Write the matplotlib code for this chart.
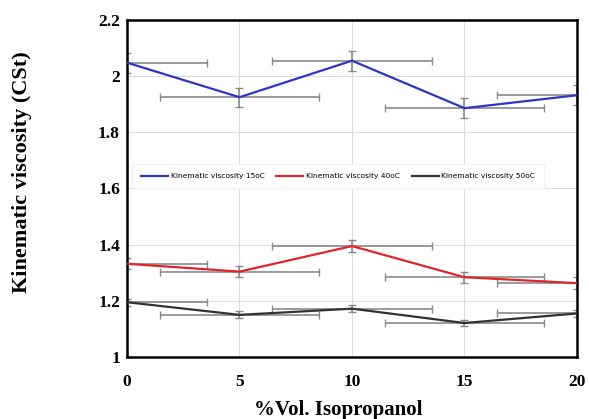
import numpy as np
import matplotlib.pyplot as plt

# data
vol_iso = [0, 5, 10, 15, 20]
visc_15 = [2.048, 1.925, 2.055, 1.886, 1.932]
visc_40 = [1.332, 1.304, 1.395, 1.284, 1.263]
visc_50 = [1.195, 1.150, 1.172, 1.121, 1.155]
yerr_15 = [0.035, 0.034, 0.035, 0.035, 0.035]
yerr_40 = [0.02, 0.02, 0.02, 0.02, 0.022]
yerr_50 = [0.012, 0.012, 0.012, 0.012, 0.012]
xerr = 3.55
labels = ['Kinematic viscosity 15oC', 'Kinematic viscosity 40oC', 'Kinematic viscosity 50oC']
colors = ['#2b35c8', '#e0242a', '#333333']

fig = plt.figure(figsize=(5.89, 4.19), dpi=100)
ax = fig.add_axes([0.2156, 0.148, 0.764, 0.8043])

series = [visc_15, visc_40, visc_50]
errs = [yerr_15, yerr_40, yerr_50]
for ys, ye, lab, col in zip(series, errs, labels, colors):
    ax.errorbar(vol_iso, ys, xerr=xerr, yerr=ye, fmt='none', ecolor='#8a8a8a',
                elinewidth=1.2, capsize=3, capthick=1.0, zorder=2)
    ax.plot(vol_iso, ys, color=col, lw=1.6, label=lab, zorder=3)

ax.set_xlim(0, 20)
ax.set_ylim(1, 2.2)
ax.set_xticks([0, 5, 10, 15, 20])
ax.set_yticks([1, 1.2, 1.4, 1.6, 1.8, 2, 2.2])
ax.set_yticklabels(['1', '1.2', '1.4', '1.6', '1.8', '2', '2.2'])
ax.grid(True, color='#dddddd', lw=0.8)
ax.set_axisbelow(True)
ax.tick_params(length=0, labelsize=12.5)
ax.tick_params(axis='y', pad=5)
ax.tick_params(axis='x', pad=12)
for lbl in ax.get_xticklabels() + ax.get_yticklabels():
    lbl.set_fontfamily('Liberation Serif')
    lbl.set_fontweight('bold')
for sp in ax.spines.values():
    sp.set_linewidth(1.8)
    sp.set_color('black')

ax.set_xlabel('%Vol. Isopropanol', fontfamily='Liberation Serif', fontweight='bold',
              fontsize=15, va='center')
ax.xaxis.set_label_coords(0.469, -0.157)
ax.set_ylabel('Kinematic viscosity (CSt)', fontfamily='Liberation Serif', fontweight='bold',
              fontsize=16, va='center')
ax.yaxis.set_label_coords(-0.233, 0.549)

leg = ax.legend(loc='center', bbox_to_anchor=(0.469, 0.537), ncol=3, fontsize=5.4,
                frameon=True, handlelength=3.6, handletextpad=0.3, columnspacing=1.6,
                borderpad=1.2, fancybox=False, framealpha=1)
leg.get_frame().set_edgecolor('#f2f2f2')
leg.get_frame().set_linewidth(0.8)

fig.savefig('out.png', dpi=100)
